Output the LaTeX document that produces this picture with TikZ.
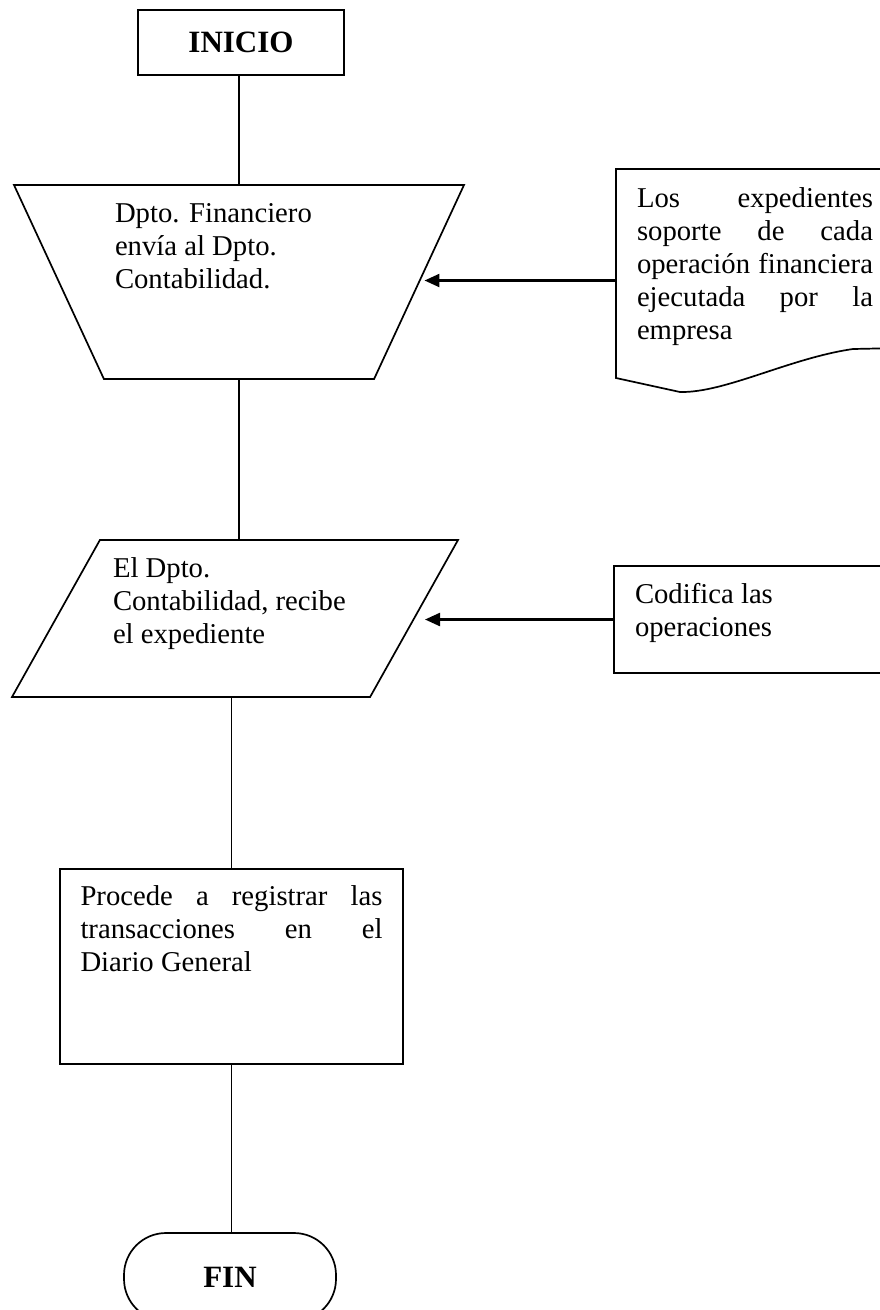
\documentclass[tikz,border=0pt]{standalone}
\usepackage{fontspec}
\setmainfont{Liberation Serif}
\usetikzlibrary{shapes.geometric,arrows.meta}
\hbadness=10000
\tolerance=10000

\tikzset{
    box/.style={draw, line width=1.7pt, inner sep=0pt},
    outline/.style={draw, line width=1.7pt},
    flow/.style={line width=1.3pt},
    feed/.style={line width=2.4pt, -{Triangle[length=15pt,width=13pt]}},
    txt/.style={font=\fontsize{28.7}{33}\selectfont},
    ttl/.style={font=\fontsize{31}{35}\selectfont\bfseries}
}

\begin{document}
\begin{tikzpicture}[x=1pt,y=-1pt]
    \useasboundingbox (0,0) rectangle (880,1310);
    \node[box, ttl, minimum width=206pt, minimum height=65pt] (ini) at (241,42.5) {INICIO};
    \node[box, txt, trapezium, trapezium angle=119.8, trapezium stretches body,
          minimum width=450pt, minimum height=194pt] (trap) at (239,282)
          {\parbox[c][157pt][t]{248pt}{Dpto. Financiero\\envía al Dpto.\\Contabilidad.}};
    \node[box, txt, trapezium, trapezium left angle=54, trapezium right angle=126,
          trapezium stretches body, minimum width=446pt, minimum height=157pt] (para) at (235,618.5)
          {\parbox[c][121pt][t]{244pt}{El Dpto.\\Contabilidad, recibe\\el expediente}};
    \node[box, txt, minimum width=343pt, minimum height=195pt] (proc) at (231.5,966.5)
          {\parbox[c][161pt][t]{302pt}{Procede a registrar las\linebreak transacciones en el\linebreak Diario General}};
    \node[box, ttl, rounded corners=42pt, minimum width=212pt, minimum height=88pt] (fin) at (230,1277) {FIN};
    % documento de soporte
    \node[txt, inner sep=0pt, minimum width=278pt, minimum height=223pt] (doc) at (755,280.5)
          {\parbox[c][186pt][t]{236pt}{Los expedientes\linebreak soporte de cada\linebreak operación financiera\linebreak ejecutada por la\linebreak empresa}};
    \draw[outline] (900,169) -- (616,169) -- (616,378) -- (680,392)
          .. controls (725,393) and (790,358) .. (853,349) -- (900,348);
    \node[box, txt, minimum width=286pt, minimum height=107pt] (cod) at (757,619.5)
          {\parbox[c][72pt][t]{244pt}{Codifica las\\operaciones}};
    % conectores
    \draw[flow] (ini.south -| trap.north) -- (trap.north);
    \draw[flow] (trap.south) -- (trap.south |- para.north);
    \draw[flow] (proc.north |- para.south) -- (proc.north);
    \draw[flow] (proc.south) -- (proc.south |- fin.north);
    \draw[feed, shorten >=4.5pt] (doc.west) -- (doc.west -| trap.east);
    \draw[feed, shorten >=10pt] (cod.west) -- (cod.west -| para.east);
\end{tikzpicture}
\end{document}
